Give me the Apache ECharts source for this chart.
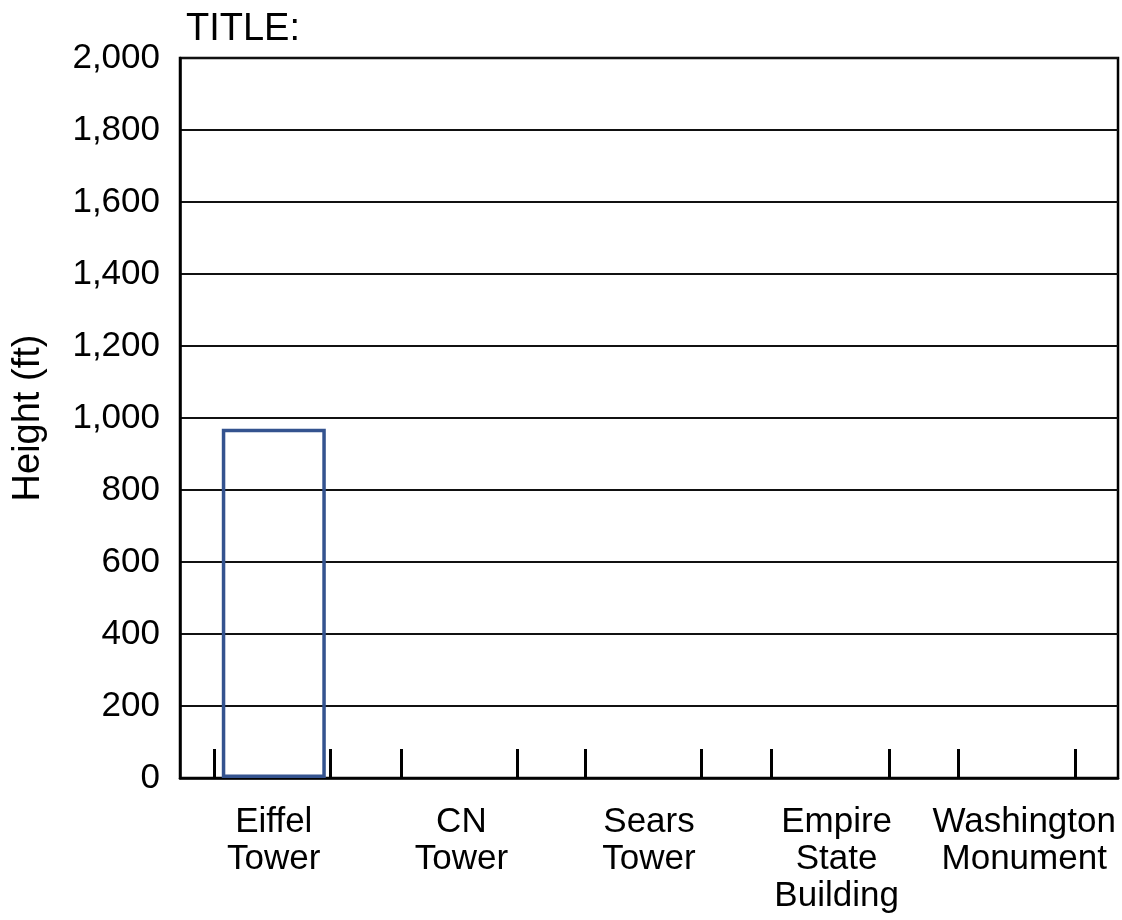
<!DOCTYPE html>
<html>
<head>
<meta charset="utf-8">
<script src="https://cdn.jsdelivr.net/npm/echarts@6/dist/echarts.min.js"></script>
<style>
  html, body { margin: 0; padding: 0; background: #fff; }
  #chart { width: 1122px; height: 920px; }
</style>
</head>
<body>
<div id="chart"></div>
<script>
// data
var towers = ['Eiffel\nTower', 'CN\nTower', 'Sears\nTower', 'Empire\nState\nBuilding', 'Washington\nMonument'];
var heights = [970, '-', '-', '-', '-'];
// the little paired ticks along the bottom, in category units (0..5)
var pairTicks = [0.18, 0.80, 1.18, 1.80, 2.16, 2.78, 3.15, 3.78, 4.15, 4.77];

var FONT = '"Liberation Sans", Arial, Helvetica, sans-serif';

var myChart = echarts.init(document.getElementById('chart'));
var option = {
    backgroundColor: '#fff',
    animation: false,
    title: {
        text: 'TITLE:',
        left: 181,
        top: 6,
        textStyle: { color: '#000', fontSize: 38, fontWeight: 'normal', fontFamily: FONT }
    },
    grid: {
        left: 180,
        right: 4,
        top: 58,
        bottom: 142,
        show: true,
        borderColor: '#000',
        borderWidth: 2.5
    },
    xAxis: [
        {
            type: 'category',
            data: towers,
            axisLine: { lineStyle: { color: '#000', width: 2.5 } },
            axisTick: { show: false },
            axisLabel: {
                color: '#000',
                fontSize: 35,
                fontFamily: FONT,
                lineHeight: 37,
                margin: 26,
                interval: 0
            }
        },
        {
            type: 'value',
            min: 0,
            max: 5,
            position: 'bottom',
            axisLine: { show: false },
            axisLabel: { show: false },
            splitLine: { show: false },
            axisTick: {
                show: true,
                inside: true,
                length: 29,
                customValues: pairTicks,
                lineStyle: { color: '#000', width: 3 }
            }
        }
    ],
    yAxis: {
        type: 'value',
        min: 0,
        max: 2000,
        interval: 200,
        name: 'Height (ft)',
        nameLocation: 'middle',
        nameGap: 132,
        nameTextStyle: { color: '#000', fontSize: 38, fontFamily: FONT },
        axisLine: { show: true, lineStyle: { color: '#000', width: 2.5 } },
        axisTick: { show: false },
        splitLine: { lineStyle: { color: '#111', width: 2 } },
        axisLabel: {
            color: '#000',
            fontSize: 35,
            fontFamily: FONT,
            margin: 20,
            formatter: function (v) { return v.toLocaleString('en-US'); }
        }
    },
    series: [
        {
            name: 'Height',
            type: 'bar',
            xAxisIndex: 0,
            data: heights,
            barWidth: 104,
            itemStyle: {
                color: 'rgba(255,255,255,0)',
                borderColor: '#34538f',
                borderWidth: 3.5
            }
        }
    ]
};
myChart.setOption(option);
</script>
</body>
</html>
